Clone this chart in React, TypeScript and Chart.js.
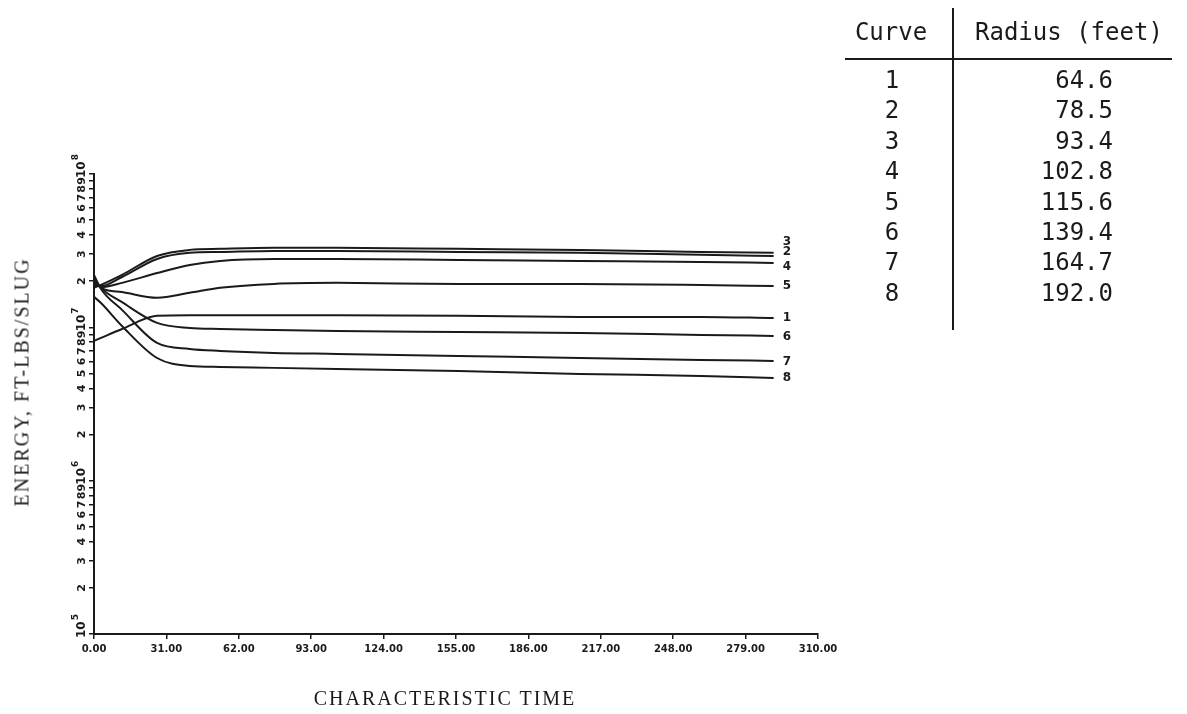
import React, { useEffect, useRef } from "react";
import { Chart, registerables } from "chart.js";
Chart.register(...registerables);

// characteristic time samples
const times = [0, 3, 12, 27, 41, 54, 77, 104, 156, 208, 260, 291];

// energy (ft-lbs/slug) per curve
const curve1 = [8.15e6, 8.53e6, 9.76e6, 1.19e7, 1.2e7, 1.2e7, 1.2e7, 1.2e7, 1.19e7, 1.17e7, 1.17e7, 1.15e7];
const curve2 = [1.86e7, 1.86e7, 2.13e7, 2.79e7, 3.06e7, 3.1e7, 3.15e7, 3.15e7, 3.1e7, 3.06e7, 2.97e7, 2.92e7];
const curve3 = [1.81e7, 1.89e7, 2.2e7, 2.92e7, 3.2e7, 3.25e7, 3.3e7, 3.3e7, 3.25e7, 3.2e7, 3.1e7, 3.06e7];
const curve4 = [1.95e7, 1.83e7, 1.95e7, 2.26e7, 2.55e7, 2.71e7, 2.79e7, 2.79e7, 2.75e7, 2.71e7, 2.67e7, 2.63e7];
const curve5 = [2.04e7, 1.81e7, 1.7e7, 1.56e7, 1.68e7, 1.81e7, 1.92e7, 1.95e7, 1.92e7, 1.92e7, 1.89e7, 1.86e7];
const curve6 = [2.1e7, 1.81e7, 1.46e7, 1.07e7, 9.91e6, 9.76e6, 9.62e6, 9.47e6, 9.33e6, 9.19e6, 8.92e6, 8.79e6];
const curve7 = [2.2e7, 1.78e7, 1.3e7, 7.91e6, 7.23e6, 7.02e6, 6.81e6, 6.71e6, 6.51e6, 6.31e6, 6.13e6, 6.04e6];
const curve8 = [1.58e7, 1.44e7, 1.02e7, 6.31e6, 5.6e6, 5.52e6, 5.44e6, 5.35e6, 5.19e6, 4.97e6, 4.82e6, 4.68e6];

const curveSeries = [curve1, curve2, curve3, curve4, curve5, curve6, curve7, curve8];
const curveNames = ["1", "2", "3", "4", "5", "6", "7", "8"];
const curveLabelDy = [0, -4, -11, 4, 0, 1, 1, 0];

// table
const tableCurves = ["1", "2", "3", "4", "5", "6", "7", "8"];
const tableRadii = ["64.6", "78.5", "93.4", "102.8", "115.6", "139.4", "164.7", "192.0"];

// axes
const xTickValues = [0, 31, 62, 93, 124, 155, 186, 217, 248, 279, 310];
const yDecades = [5, 6, 7, 8];
const yMantissas = [1, 2, 3, 4, 5, 6, 7, 8, 9];

const INK = "#1a1a1a";

export default function App() {
  const ref = useRef<HTMLCanvasElement | null>(null);

  useEffect(() => {
    document.body.style.margin = "0";
    const canvas = ref.current;
    if (!canvas) return;

    const yTicksPlugin = {
      id: "yTickLabels",
      afterDraw(chart: any) {
        const y = chart.scales.y;
        const ctx = chart.ctx;
        ctx.save();
        ctx.fillStyle = INK;
        y.ticks.forEach((t: any) => {
          const v = t.value;
          const exp = Math.round(Math.log10(v));
          const isDecade = Math.abs(v - Math.pow(10, exp)) < 1e-6 * v;
          const py = y.getPixelForValue(v);
          ctx.save();
          if (isDecade) {
            ctx.translate(82, py + 4);
            ctx.rotate(-Math.PI / 2);
            ctx.textAlign = "left";
            ctx.textBaseline = "middle";
            ctx.font = 'bold 12px "DejaVu Sans"';
            ctx.fillText("10", 0, 0);
            const w = ctx.measureText("10").width;
            ctx.font = 'bold 9px "DejaVu Sans"';
            ctx.fillText(String(exp), w + 1, -6);
          } else {
            const m = Math.round(v / Math.pow(10, Math.floor(Math.log10(v) + 1e-9)));
            ctx.translate(82, py);
            ctx.rotate(-Math.PI / 2);
            ctx.textAlign = "center";
            ctx.textBaseline = "middle";
            ctx.font = 'bold 11px "DejaVu Sans"';
            ctx.fillText(String(m), 0, 0);
          }
          ctx.restore();
        });
        ctx.restore();
      },
    };

    const curveLabelPlugin = {
      id: "curveLabels",
      afterDatasetsDraw(chart: any) {
        const ctx = chart.ctx;
        ctx.save();
        ctx.fillStyle = INK;
        ctx.font = 'bold 12px "DejaVu Sans"';
        ctx.textAlign = "left";
        ctx.textBaseline = "middle";
        chart.data.datasets.forEach((ds: any, i: number) => {
          const meta = chart.getDatasetMeta(i);
          const pt = meta.data[meta.data.length - 1];
          if (!pt) return;
          ctx.fillText(curveNames[i], pt.x + 9, pt.y + curveLabelDy[i]);
        });
        ctx.restore();
      },
    };

    const chart = new Chart(canvas, {
      type: "line",
      data: {
        labels: times,
        datasets: curveSeries.map((s, i) => ({
          label: curveNames[i],
          data: s.map((v, j) => ({ x: times[j], y: v })),
          borderColor: INK,
          borderWidth: 2,
          pointRadius: 0,
          fill: false,
          clip: false,
          cubicInterpolationMode: "monotone" as const,
        })),
      },
      options: {
        responsive: false,
        animation: false,
        events: [],
        layout: { padding: { left: 0, top: 174, right: 369, bottom: 0 } },
        plugins: {
          legend: { display: false },
          tooltip: { enabled: false },
          title: { display: false },
        },
        scales: {
          x: {
            type: "linear",
            min: 0,
            max: 310,
            afterBuildTicks(scale: any) {
              scale.ticks = xTickValues.map((v) => ({ value: v }));
            },
            afterFit(scale: any) {
              scale.height = 80;
            },
            grid: {
              display: true,
              drawOnChartArea: false,
              drawTicks: true,
              tickLength: 5,
              color: INK,
              lineWidth: 1.5,
            },
            border: { display: true, color: INK, width: 2 },
            ticks: {
              autoSkip: false,
              maxRotation: 0,
              minRotation: 0,
              padding: 4,
              color: INK,
              font: { family: '"DejaVu Sans"', size: 10, weight: "bold" },
              callback: (v: any) => Number(v).toFixed(2),
            },
          },
          y: {
            type: "logarithmic",
            min: 1e5,
            max: 1e8,
            afterBuildTicks(scale: any) {
              const arr: any[] = [];
              yDecades.forEach((d) => {
                yMantissas.forEach((m) => {
                  const v = m * Math.pow(10, d);
                  if (v <= 1e8 + 1) arr.push({ value: v });
                });
              });
              scale.ticks = arr;
            },
            afterFit(scale: any) {
              scale.width = 94;
            },
            grid: {
              display: true,
              drawOnChartArea: false,
              drawTicks: true,
              tickLength: 5,
              color: INK,
              lineWidth: 1.5,
            },
            border: { display: true, color: INK, width: 2 },
            ticks: { display: false, autoSkip: false },
          },
        },
      },
      plugins: [yTicksPlugin, curveLabelPlugin],
    } as any);

    return () => chart.destroy();
  }, []);

  const mono = '"DejaVu Sans Mono", monospace';
  const serif = '"Liberation Serif", serif';

  return (
    <div style={{ position: "relative", width: 1187, height: 714, background: "#fff", overflow: "hidden" }}>
      <canvas ref={ref} width={1187} height={714} style={{ position: "absolute", left: 0, top: 0 }} />
      {/* y axis title */}
      <div
        style={{
          position: "absolute",
          left: 22,
          top: 382,
          transform: "translate(-50%, -50%) rotate(-90deg)",
          whiteSpace: "nowrap",
          fontFamily: serif,
          fontSize: 20,
          letterSpacing: 2,
          color: INK,
        }}
      >
        ENERGY, FT-LBS/SLUG
      </div>
      {/* x axis title */}
      <div
        style={{
          position: "absolute",
          left: 445,
          top: 698,
          transform: "translate(-50%, -50%)",
          whiteSpace: "nowrap",
          fontFamily: serif,
          fontSize: 20,
          letterSpacing: 2,
          color: INK,
        }}
      >
        CHARACTERISTIC TIME
      </div>
      {/* table */}
      <div style={{ position: "absolute", left: 845, top: 58, width: 327, height: 2, background: INK }} />
      <div style={{ position: "absolute", left: 952, top: 8, width: 2, height: 322, background: INK }} />
      <div
        style={{
          position: "absolute",
          left: 891,
          top: 17,
          transform: "translateX(-50%)",
          fontFamily: mono,
          fontSize: 24,
          lineHeight: "30px",
          color: INK,
          whiteSpace: "nowrap",
        }}
      >
        Curve
      </div>
      <div
        style={{
          position: "absolute",
          left: 975,
          top: 17,
          fontFamily: mono,
          fontSize: 24,
          lineHeight: "30px",
          color: INK,
          whiteSpace: "nowrap",
        }}
      >
        Radius (feet)
      </div>
      {tableCurves.map((c, i) => (
        <React.Fragment key={c}>
          <div
            style={{
              position: "absolute",
              left: 892,
              top: 65 + i * 30.4,
              transform: "translateX(-50%)",
              fontFamily: mono,
              fontSize: 24,
              lineHeight: "30px",
              color: INK,
            }}
          >
            {c}
          </div>
          <div
            style={{
              position: "absolute",
              right: 1187 - 1113,
              top: 65 + i * 30.4,
              textAlign: "right",
              fontFamily: mono,
              fontSize: 24,
              lineHeight: "30px",
              color: INK,
            }}
          >
            {tableRadii[i]}
          </div>
        </React.Fragment>
      ))}
    </div>
  );
}
